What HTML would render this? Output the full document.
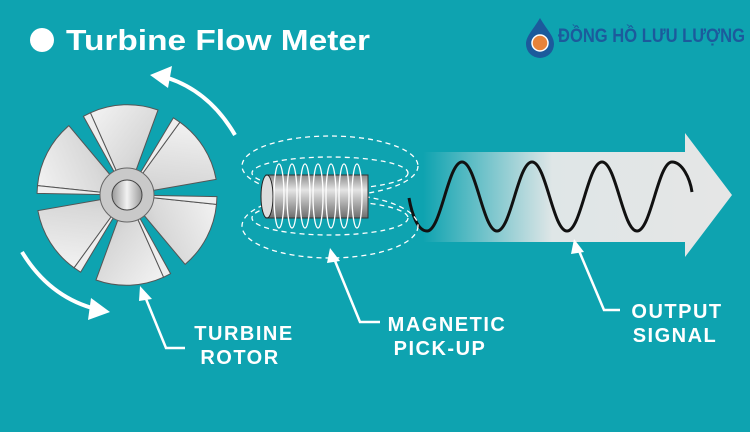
<!DOCTYPE html>
<html><head><meta charset="utf-8"><style>html,body{margin:0;padding:0;background:#0ea3b0}svg{display:block}</style></head><body>
<svg width="750" height="432" viewBox="0 0 750 432" xmlns="http://www.w3.org/2000/svg" font-family="Liberation Sans, sans-serif">
<defs>
<linearGradient id="ar" x1="395" y1="0" x2="745" y2="0" gradientUnits="userSpaceOnUse">
<stop offset="0" stop-color="#0ea3b0"/><stop offset="0.08" stop-color="#0ea3b0"/><stop offset="0.45" stop-color="#dfe6e7"/><stop offset="1" stop-color="#e6e6e6"/></linearGradient>
<linearGradient id="bl" x1="0" y1="0" x2="1" y2="1"><stop offset="0" stop-color="#f4f4f4"/><stop offset="0.6" stop-color="#d8d8d8"/><stop offset="1" stop-color="#b5b5b5"/></linearGradient>
<linearGradient id="cy" x1="0" y1="0" x2="0" y2="1"><stop offset="0" stop-color="#8a8a8a"/><stop offset="0.35" stop-color="#e4e4e4"/><stop offset="1" stop-color="#6e6e6e"/></linearGradient>
<linearGradient id="hub" x1="0" y1="0" x2="1" y2="0"><stop offset="0" stop-color="#999"/><stop offset="0.5" stop-color="#f2f2f2"/><stop offset="1" stop-color="#999"/></linearGradient>
</defs>
<rect width="750" height="432" fill="#0ea3b0"/>
<circle cx="42" cy="40" r="12" fill="#fff"/>
<text x="66" y="50" font-size="29" font-weight="bold" fill="#fff" textLength="304" lengthAdjust="spacingAndGlyphs">Turbine Flow Meter</text>
<path d="M540 18 C533 30 526 36 526 44 A14 14 0 0 0 554 44 C554 36 547 30 540 18Z" fill="#1c5a9c"/>
<circle cx="540" cy="43" r="8" fill="#e8833a" stroke="#fff" stroke-width="1.5"/>
<text x="558" y="42" font-size="19" font-weight="bold" fill="#1c5a9c" textLength="187" lengthAdjust="spacingAndGlyphs">ĐỒNG HỒ LƯU LƯỢNG</text>

<path d="M395 152 L685 152 L685 133 L732 195 L685 257 L685 242 L395 242Z" fill="url(#ar)"/>
<path d="M409 198 C412 215 418 231 427 231 C441 231 448 162 462 162 S483 231 497 231 S518 162 532 162 S553 231 567 231 S588 162 602 162 S623 231 637 231 S658 162 672 162 C682 162 690 178 692 192" fill="none" stroke="#111" stroke-width="3"/>

<g transform="translate(127,195)" stroke="#555" stroke-width="1">
<g id="b"><path d="M0 0 L-36.6 -82.2 A90 90 0 0 1 31 -85 Z" fill="url(#bl)"/><path d="M0 0 L-43.6 -78.7 L-36.6 -82.2Z" fill="#eee"/></g>
<use href="#b" transform="rotate(60)"/><use href="#b" transform="rotate(120)"/><use href="#b" transform="rotate(180)"/><use href="#b" transform="rotate(240)"/><use href="#b" transform="rotate(300)"/>
<circle r="27" fill="#c9c9c9" stroke="#666"/>
<circle r="15" fill="url(#hub)" stroke="#444"/>
</g>
<path d="M235 135 Q210 92 168 78" fill="none" stroke="#fff" stroke-width="4"/>
<path d="M150 75 L172 66 L168 88Z" fill="#fff"/>
<path d="M22 252 Q48 295 92 308" fill="none" stroke="#fff" stroke-width="4"/>
<path d="M110 312 L88 320 L91 298Z" fill="#fff"/>

<g fill="none" stroke="#fff" stroke-width="1.3" stroke-dasharray="5 4">
<ellipse cx="330" cy="166" rx="88" ry="30"/>
<ellipse cx="330" cy="173" rx="78" ry="16"/>
<ellipse cx="330" cy="226" rx="88" ry="32"/>
<ellipse cx="330" cy="218" rx="78" ry="17"/>
</g>
<rect x="266" y="175" width="102" height="43" fill="url(#cy)" stroke="#333"/>
<ellipse cx="267" cy="196.5" rx="6" ry="21.5" fill="#ddd" stroke="#222"/>
<g fill="none" stroke="#fff" stroke-width="1.3">
<ellipse cx="279" cy="196" rx="5" ry="32"/><ellipse cx="292" cy="196" rx="5" ry="32"/><ellipse cx="305" cy="196" rx="5" ry="32"/><ellipse cx="318" cy="196" rx="5" ry="32"/><ellipse cx="331" cy="196" rx="5" ry="32"/><ellipse cx="344" cy="196" rx="5" ry="32"/><ellipse cx="357" cy="196" rx="5" ry="32"/>
</g>

<g fill="none" stroke="#fff" stroke-width="2.5">
<path d="M144 294 L166 348 L185 348"/>
<path d="M333 256 L360 322 L380 322"/>
<path d="M577 246 L604 310 L620 310"/>
</g>
<g fill="#fff"><path d="M140 286 L152 299 L139 301Z"/><path d="M330 248 L340 261 L327 263Z"/><path d="M574 239 L584 252 L571 254Z"/></g>
<g fill="#fff" font-size="20" font-weight="bold" text-anchor="middle" letter-spacing="1.5">
<text x="244" y="340">TURBINE</text><text x="240" y="364">ROTOR</text>
<text x="447" y="331">MAGNETIC</text><text x="440" y="355">PICK-UP</text>
<text x="677" y="318">OUTPUT</text><text x="675" y="342">SIGNAL</text>
</g>
</svg>
</body></html>
